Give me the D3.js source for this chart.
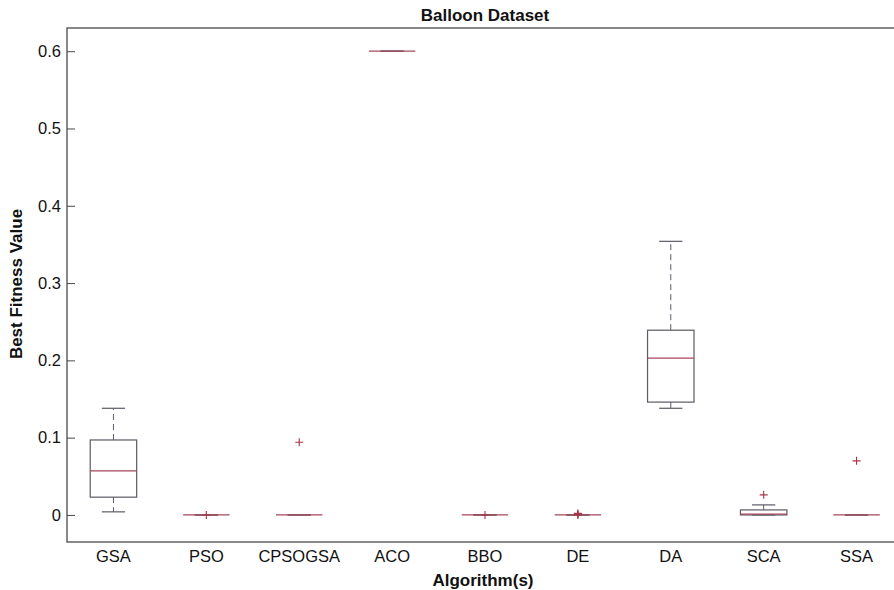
<!DOCTYPE html>
<html>
<head>
<meta charset="utf-8">
<script src="https://cdn.jsdelivr.net/npm/d3@7/dist/d3.min.js"></script>
<style>
  html, body { margin: 0; padding: 0; background: #fff; }
  text { font-family: "Liberation Sans", Arial, sans-serif; fill: #111; }
</style>
</head>
<body>
<div id="chart"></div>
<script>
// ── Data ──
const categories  = ['GSA', 'PSO', 'CPSOGSA', 'ACO', 'BBO', 'DE', 'DA', 'SCA', 'SSA'];
const whiskerLow  = [0.004, 0, 0, 0.6, 0, 0, 0.138, 0, 0];
const q1          = [0.023, 0, 0, 0.6, 0, 0, 0.146, 0, 0];
const median      = [0.057, 0, 0, 0.6, 0, 0, 0.203, 0.001, 0];
const q3          = [0.097, 0, 0, 0.6, 0, 0, 0.239, 0.0065, 0];
const whiskerHigh = [0.138, 0, 0, 0.6, 0, 0, 0.354, 0.013, 0];
const outliers    = [[], [0], [0.094], [], [0], [0, 0.001, 0.002], [], [0.026], [0.070]];
const yTicks      = [0, 0.1, 0.2, 0.3, 0.4, 0.5, 0.6];

const W = 894, H = 590;
const mLeft = 67, mRight = 903, mTop = 28, mBottom = 542;

const svg = d3.select('#chart').append('svg').attr('width', W).attr('height', H);

const x = d3.scaleBand().domain(categories).range([mLeft, mRight]).padding(0);
const y = d3.scaleLinear().domain([-0.035, 0.63]).range([mBottom, mTop]);
const bw = x.bandwidth();
const cx = c => x(c) + bw / 2;

const AXIS = '#4a4a4a', BOX = '#5a5a66', MED = '#a8475a', OUT = '#a83545';
const FONT = '"Liberation Sans", Arial, sans-serif';

// ── Frame + ticks ──
svg.append('rect').attr('x', mLeft).attr('y', mTop)
  .attr('width', mRight - mLeft).attr('height', mBottom - mTop)
  .attr('fill', 'none').attr('stroke', AXIS).attr('stroke-width', 1.3);

svg.append('g').attr('transform', `translate(${mLeft},0)`)
  .call(d3.axisLeft(y).tickValues(yTicks).tickSize(-8).tickPadding(6).tickFormat(d3.format('~g')))
  .call(g => g.select('.domain').remove())
  .call(g => g.selectAll('line').attr('stroke', AXIS).attr('stroke-width', 1))
  .call(g => g.selectAll('text').attr('font-size', '16.5px').attr('fill', '#111').style('font-family', FONT));

svg.append('g').attr('transform', `translate(${mRight},0)`)
  .call(d3.axisRight(y).tickValues(yTicks).tickSize(-8).tickFormat(''))
  .call(g => g.select('.domain').remove())
  .call(g => g.selectAll('line').attr('stroke', AXIS).attr('stroke-width', 1));

svg.append('g').attr('transform', `translate(0,${mBottom})`)
  .call(d3.axisBottom(x).tickSize(0).tickPadding(8))
  .call(g => g.select('.domain').remove())
  .call(g => g.selectAll('text').attr('font-size', '16.5px').attr('fill', '#111').style('font-family', FONT));

// ── Boxes ──
const boxes = svg.append('g').selectAll('g').data(categories).join('g');

boxes.each(function(c, i) {
  const g = d3.select(this);
  const xc = cx(c);
  const half = bw * 0.25, cap = bw * 0.125;

  // whiskers (dashed)
  g.append('line').attr('x1', xc).attr('x2', xc)
    .attr('y1', y(q3[i])).attr('y2', y(whiskerHigh[i]))
    .attr('stroke', BOX).attr('stroke-width', 1).attr('stroke-dasharray', '6,4');
  g.append('line').attr('x1', xc).attr('x2', xc)
    .attr('y1', y(q1[i])).attr('y2', y(whiskerLow[i]))
    .attr('stroke', BOX).attr('stroke-width', 1).attr('stroke-dasharray', '6,4');
  // caps
  [whiskerHigh[i], whiskerLow[i]].forEach(v => {
    g.append('line').attr('x1', xc - cap).attr('x2', xc + cap)
      .attr('y1', y(v)).attr('y2', y(v))
      .attr('stroke', BOX).attr('stroke-width', 1.2);
  });
  // box
  g.append('rect').attr('x', xc - half).attr('y', y(q3[i]))
    .attr('width', half * 2).attr('height', Math.max(0, y(q1[i]) - y(q3[i])))
    .attr('fill', 'none').attr('stroke', BOX).attr('stroke-width', 1.2);
  // median
  g.append('line').attr('x1', xc - half).attr('x2', xc + half)
    .attr('y1', y(median[i])).attr('y2', y(median[i]))
    .attr('stroke', MED).attr('stroke-width', 1.2);
  // outliers
  outliers[i].forEach(v => {
    const py = y(v);
    g.append('path').attr('d', `M${xc - 4},${py}H${xc + 4}M${xc},${py - 4}V${py + 4}`)
      .attr('stroke', OUT).attr('stroke-width', 1.1).attr('fill', 'none');
  });
});

// ── Titles ──
svg.append('text').attr('x', 485).attr('y', 21)
  .attr('text-anchor', 'middle').attr('font-size', '17px').attr('font-weight', 'bold')
  .text('Balloon Dataset');
svg.append('text').attr('x', 483).attr('y', 586)
  .attr('text-anchor', 'middle').attr('font-size', '17px').attr('font-weight', 'bold')
  .text('Algorithm(s)');
svg.append('text').attr('transform', `translate(22,284) rotate(-90)`)
  .attr('text-anchor', 'middle').attr('font-size', '17px').attr('font-weight', 'bold')
  .text('Best Fitness Value');
</script>
</body>
</html>
